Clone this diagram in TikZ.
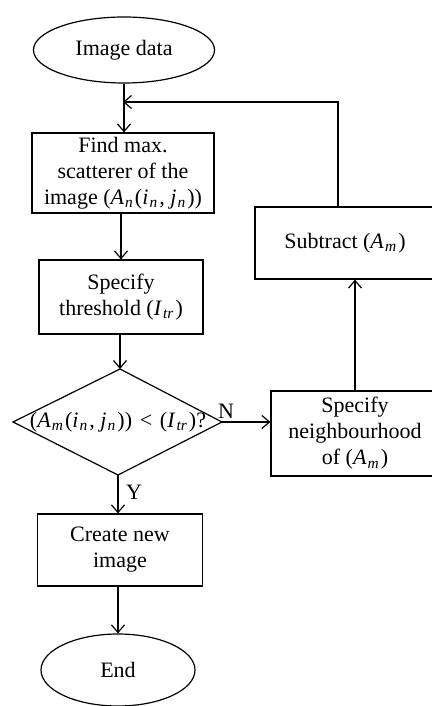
\documentclass[tikz,border=0pt]{standalone}
\usepackage{fontspec}
\setmainfont{Liberation Serif}
\usetikzlibrary{shapes.geometric,arrows.meta}
\newcommand\vi[1]{\textit{#1}\kern0.05em}
\newcommand\vs[1]{\textsubscript{\textit{#1}}\kern0.05em}
\tikzset{
  every node/.style={font=\fontsize{11}{13}\selectfont},
  flowline/.style={line width=0.6pt},
  arr/.style={flowline,-{Straight Barb[length=3.8pt,width=6.5pt,line width=0.6pt]}},
  term/.style={ellipse,draw,line width=0.6pt,inner sep=0pt},
  procbox/.style={rectangle,draw,line width=0.6pt,inner sep=0pt,align=center},
  lbl/.style={inner sep=0pt}
}
\begin{document}
\begin{tikzpicture}[x=0.5pt,y=-0.5pt]
\useasboundingbox (0,0) rectangle (432,706);
\clip (0,0) rectangle (432,706);
% nodes
\node[term,minimum width=90.5pt,minimum height=33pt] (start) at (124,50) {Image data};
\node[procbox,minimum width=91pt,minimum height=40pt] (find) at (123,173)
  {Find max.\\ scatterer of the\\ image (\vi{A}\vs{n}(\vi{i}\vs{n}, \vi{j}\vs{n}))};
\node[procbox,minimum width=82pt,minimum height=37pt] (thr) at (121,297)
  {Specify\\ threshold (\vi{I}\vs{tr})};
% decision diamond
\coordinate (dtop) at (120,369);
\coordinate (dright) at (222,422);
\coordinate (dbot) at (118,475);
\coordinate (dleft) at (13,422);
\draw[flowline] (dtop) -- (dright) -- (dbot) -- (dleft) -- cycle;
\node[lbl] (dec) at (118,422) {(\vi{A}\vs{m}(\vi{i}\vs{n}, \vi{j}\vs{n}))\hspace{0.35em}{<}\hspace{0.35em}(\vi{I}\vs{tr})?};
\node[procbox,minimum width=82.5pt,minimum height=36pt] (create) at (120,550)
  {Create new\\ image};
\node[term,minimum width=77pt,minimum height=36pt] (end) at (118,670) {End};
\node[procbox,minimum width=90pt,minimum height=36pt] (sub) at (345,243)
  {Subtract (\vi{A}\vs{m})};
\node[procbox,minimum width=84pt,minimum height=42.5pt] (nb) at (355,433.5)
  {Specify\\ neighbourhood\\ of (\vi{A}\vs{m})};
\coordinate (join) at (123,102);
\coordinate (subtop) at (338,207);
% labels
\node[lbl] (nlab) at (226,411) {N};
\node[lbl] (ylab) at (134,492) {Y};
% connectors
\draw[arr] (start.south) -- (start.south |- find.north);
\draw[arr] (find.south -| thr.north) -- (thr.north);
\draw[arr] (thr.south -| dtop) -- (dtop);
\draw[arr] (dbot) -- (dbot |- create.north);
\draw[arr] (create.south -| end.north) -- (end.north);
\draw[arr] (dright) -- (dright -| nb.west);
\draw[arr] (nb.north) -- (nb.north |- sub.south);
\draw[arr] (subtop) -- (subtop |- join) -- (join);
\end{tikzpicture}
\end{document}
